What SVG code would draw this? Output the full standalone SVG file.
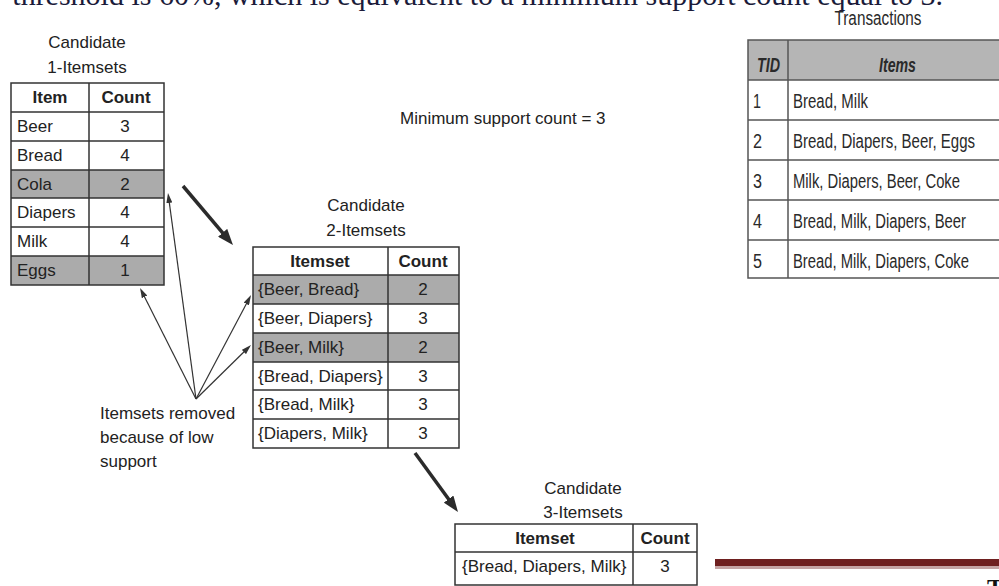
<svg xmlns="http://www.w3.org/2000/svg" width="999" height="586" viewBox="0 0 999 586">
<style>
  .t{font-family:"Liberation Sans",Arial,sans-serif;font-size:17px;fill:#222}
  .b{font-weight:bold}
  .c{text-anchor:middle}
  .tx{font-family:"Liberation Sans",Arial,sans-serif;font-size:20px;fill:#2a2a2a}
  .grid{fill:none;stroke:#333;stroke-width:1.5}
  .shade{fill:#ababab}
  .thick{stroke:#2b2b2b;stroke-width:3.5;fill:none}
  .thin{stroke:#333;stroke-width:1.2;fill:none}
</style>
<defs>
  <marker id="bigHead" viewBox="0 0 16 12" refX="4" refY="6" markerWidth="16" markerHeight="12" markerUnits="userSpaceOnUse" orient="auto">
    <path d="M0,0 L16,6 L0,12 z" fill="#2b2b2b"/>
  </marker>
  <marker id="smallHead" viewBox="0 0 10 6" refX="1" refY="3" markerWidth="10" markerHeight="6" markerUnits="userSpaceOnUse" orient="auto">
    <path d="M0,0 L10,3 L0,6 z" fill="#333"/>
  </marker>
</defs>
<rect width="999" height="586" fill="#fff"/>

<text x="943" y="5" text-anchor="end" font-family="'Liberation Serif','Times New Roman',serif" font-size="30" fill="#1b1b3a">threshold is 60%, which is equivalent to a minimum support count equal to 3.</text>

<g id="candidate1">
  <text class="t c" x="87" y="48">Candidate</text>
  <text class="t c" x="87" y="73">1-Itemsets</text>
  <rect class="shade" x="11" y="170" width="153" height="28"/>
  <rect class="shade" x="11" y="256" width="153" height="29"/>
  <rect class="grid" x="11" y="83" width="153" height="202"/>
  <path class="grid" d="M89,83 V285 M11,112 H164 M11,141 H164 M11,170 H164 M11,198 H164 M11,227 H164 M11,256 H164"/>
  <text class="t b c" x="50" y="103">Item</text>
  <text class="t b c" x="126" y="103">Count</text>
  <text class="t" x="17" y="132">Beer</text><text class="t c" x="125" y="132">3</text>
  <text class="t" x="17" y="161">Bread</text><text class="t c" x="125" y="161">4</text>
  <text class="t" x="17" y="190">Cola</text><text class="t c" x="125" y="190">2</text>
  <text class="t" x="17" y="218">Diapers</text><text class="t c" x="125" y="218">4</text>
  <text class="t" x="17" y="247">Milk</text><text class="t c" x="125" y="247">4</text>
  <text class="t" x="17" y="276">Eggs</text><text class="t c" x="125" y="276">1</text>
</g>

<g id="minsupport">
  <text class="t" x="400" y="124">Minimum support count = 3</text>
</g>

<g id="candidate2">
  <text class="t c" x="366" y="211">Candidate</text>
  <text class="t c" x="366" y="236">2-Itemsets</text>
  <rect class="shade" x="253" y="275" width="206" height="29"/>
  <rect class="shade" x="253" y="333" width="206" height="29"/>
  <rect class="grid" x="253" y="247" width="206" height="201"/>
  <path class="grid" d="M388,247 V448 M253,275 H459 M253,304 H459 M253,333 H459 M253,362 H459 M253,390 H459 M253,419 H459"/>
  <text class="t b c" x="320" y="267">Itemset</text>
  <text class="t b c" x="423" y="267">Count</text>
  <text class="t" x="258" y="295">{Beer, Bread}</text><text class="t c" x="423" y="295">2</text>
  <text class="t" x="258" y="324">{Beer, Diapers}</text><text class="t c" x="423" y="324">3</text>
  <text class="t" x="258" y="353">{Beer, Milk}</text><text class="t c" x="423" y="353">2</text>
  <text class="t" x="258" y="382">{Bread, Diapers}</text><text class="t c" x="423" y="382">3</text>
  <text class="t" x="258" y="410">{Bread, Milk}</text><text class="t c" x="423" y="410">3</text>
  <text class="t" x="258" y="439">{Diapers, Milk}</text><text class="t c" x="423" y="439">3</text>
</g>

<g id="candidate3">
  <text class="t c" x="583" y="494">Candidate</text>
  <text class="t c" x="583" y="518">3-Itemsets</text>
  <rect class="grid" x="455" y="524" width="242" height="61"/>
  <path class="grid" d="M633,524 V585 M455,552 H697"/>
  <text class="t b c" x="545" y="544">Itemset</text>
  <text class="t b c" x="665" y="544">Count</text>
  <text class="t" x="462" y="572">{Bread, Diapers, Milk}</text>
  <text class="t c" x="665" y="572">3</text>
</g>

<g id="note">
  <text class="t" x="100" y="419">Itemsets removed</text>
  <text class="t" x="100" y="443">because of low</text>
  <text class="t" x="100" y="467">support</text>
</g>

<g id="transactions">
  <text class="tx c" x="878" y="25" font-size="21" textLength="87" lengthAdjust="spacingAndGlyphs">Transactions</text>
  <rect x="748" y="40" width="262" height="40" fill="#b5b5b5"/>
  <rect x="748" y="40" width="262" height="238" fill="none" stroke="#555" stroke-width="1.5"/>
  <path d="M788,40 V278 M748,80 H1010 M748,120 H1010 M748,160 H1010 M748,200 H1010 M748,240 H1010" stroke="#555" stroke-width="1.5" fill="none"/>
  <text class="tx b" x="757" y="72" font-style="italic" textLength="23" lengthAdjust="spacingAndGlyphs">TID</text>
  <text class="tx b" x="879" y="72" font-style="italic" textLength="37" lengthAdjust="spacingAndGlyphs">Items</text>
  <text class="tx" x="753" y="108" textLength="8" lengthAdjust="spacingAndGlyphs">1</text>
  <text class="tx" x="793" y="108" textLength="75" lengthAdjust="spacingAndGlyphs">Bread, Milk</text>
  <text class="tx" x="753" y="148" textLength="9" lengthAdjust="spacingAndGlyphs">2</text>
  <text class="tx" x="793" y="148" textLength="182" lengthAdjust="spacingAndGlyphs">Bread, Diapers, Beer, Eggs</text>
  <text class="tx" x="753" y="188" textLength="9" lengthAdjust="spacingAndGlyphs">3</text>
  <text class="tx" x="793" y="188" textLength="167" lengthAdjust="spacingAndGlyphs">Milk, Diapers, Beer, Coke</text>
  <text class="tx" x="753" y="228" textLength="9" lengthAdjust="spacingAndGlyphs">4</text>
  <text class="tx" x="793" y="228" textLength="173" lengthAdjust="spacingAndGlyphs">Bread, Milk, Diapers, Beer</text>
  <text class="tx" x="753" y="268" textLength="9" lengthAdjust="spacingAndGlyphs">5</text>
  <text class="tx" x="793" y="268" textLength="176" lengthAdjust="spacingAndGlyphs">Bread, Milk, Diapers, Coke</text>
</g>

<g id="connectors">
  <line class="thick" x1="183" y1="186" x2="225.2" y2="235.8" marker-end="url(#bigHead)"/>
  <line class="thick" x1="415" y1="453" x2="450.9" y2="502.3" marker-end="url(#bigHead)"/>
  <line class="thin" x1="196" y1="399" x2="169.2" y2="201.9" marker-end="url(#smallHead)"/>
  <line class="thin" x1="196" y1="399" x2="144.1" y2="296" marker-end="url(#smallHead)"/>
  <line class="thin" x1="196" y1="399" x2="246.8" y2="303" marker-end="url(#smallHead)"/>
  <line class="thin" x1="196" y1="399" x2="244.6" y2="351.3" marker-end="url(#smallHead)"/>
</g>

<g id="footer">
  <rect x="715" y="559" width="284" height="7" fill="#6e1f1f"/>
  <rect x="715" y="566" width="284" height="3" fill="#c4a4a4"/>
  <text x="987" y="595" font-family="'Liberation Serif','Times New Roman',serif" font-size="24" font-weight="bold" fill="#111">T</text>
</g>
</svg>
